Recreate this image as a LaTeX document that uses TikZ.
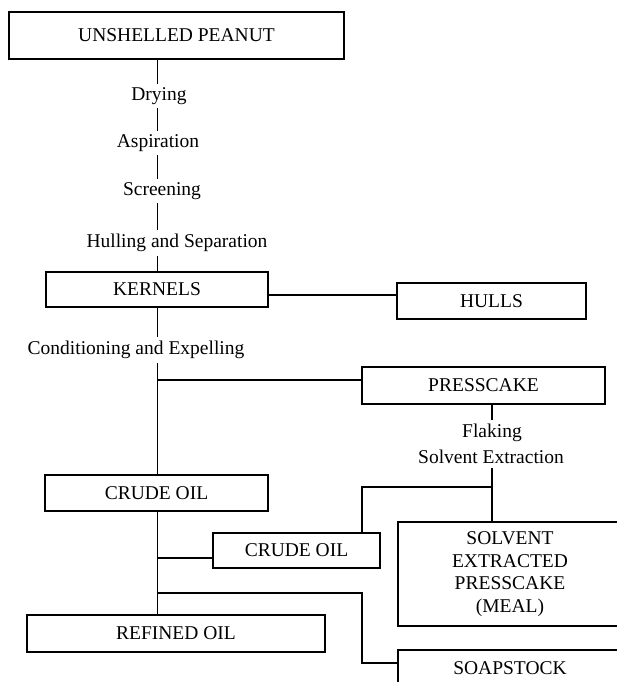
\documentclass[tikz,border=0pt]{standalone}
\usepackage{fontspec}
\setmainfont{Liberation Serif}
\begin{document}
\begin{tikzpicture}[x=1pt, y=-1pt, line width=1.8pt,
    every node/.style={font=\fontsize{19.5}{22.7}\selectfont},
    box/.style={draw, inner sep=0pt},
    lbl/.style={inner sep=3pt}]
    \useasboundingbox (0,0) rectangle (617,682);
    \coordinate (spine) at (157.5,0);
    \node (peanut) at (176.5,35.5) [box, minimum width=335pt, minimum height=47pt] {UNSHELLED PEANUT};
    \node (drying) at (159,96) [lbl] {Drying};
    \node (aspiration) at (158,143) [lbl] {Aspiration};
    \node (screening) at (162,191) [lbl] {Screening};
    \node (hulling) at (177,243) [lbl] {Hulling and Separation};
    \node (kernels) at (157,289.5) [box, minimum width=222pt, minimum height=35pt] {KERNELS};
    \node (hulls) at (491.5,301) [box, minimum width=189pt, minimum height=36pt] {HULLS};
    \node (conditioning) at (136,350) [lbl] {Conditioning and Expelling};
    \node (presscake) at (483.5,385.5) [box, minimum width=243pt, minimum height=37pt] {PRESSCAKE};
    \node (flaking) at (492,433) [lbl] {Flaking};
    \node (solvex) at (491,457) [lbl] {Solvent Extraction};
    \node (crude1) at (156.5,493) [box, minimum width=223pt, minimum height=36pt] {CRUDE OIL};
    \node (crude2) at (296.5,550.5) [box, minimum width=167pt, minimum height=35pt] {CRUDE OIL};
    \node (meal) at (510,574) [box, minimum width=224pt, minimum height=104pt, align=center] {SOLVENT\\EXTRACTED\\PRESSCAKE\\(MEAL)};
    \node (refined) at (176,633.5) [box, minimum width=298pt, minimum height=37pt] {REFINED OIL};
    \node (soapstock) at (510,668) [box, minimum width=224pt, minimum height=36pt] {SOAPSTOCK};
    \coordinate (pk) at ([yshift=5.5pt]presscake.west);
    \coordinate (c2) at ([yshift=-7.5pt]crude2.west);
    \coordinate (sp) at ([yshift=5pt]soapstock.west);
    \coordinate (tap) at (362,487);
    \coordinate (bend) at (362,593);
    \draw (spine |- peanut.south) -- (spine |- drying.north);
    \draw (spine |- drying.south) -- (spine |- aspiration.north);
    \draw (spine |- aspiration.south) -- (spine |- screening.north);
    \draw (spine |- screening.south) -- (spine |- hulling.north);
    \draw (spine |- hulling.south) -- (spine |- kernels.north);
    \draw ([yshift=-5.5pt]kernels.east) -- ([yshift=6pt]hulls.west);
    \draw (spine |- kernels.south) -- (spine |- conditioning.north);
    \draw (spine |- conditioning.south) -- (spine |- crude1.north);
    \draw (spine |- pk) -- (pk);
    \draw (flaking.north |- presscake.south) -- (flaking.north);
    \draw (solvex.south -| flaking) -- (flaking |- meal.north);
    \draw (flaking |- tap) -- (tap) -- (tap |- crude2.north);
    \draw (spine |- crude1.south) -- (spine |- refined.north);
    \draw (spine |- c2) -- (c2);
    \draw (spine |- bend) -- (bend) |- (sp);
\end{tikzpicture}
\end{document}
